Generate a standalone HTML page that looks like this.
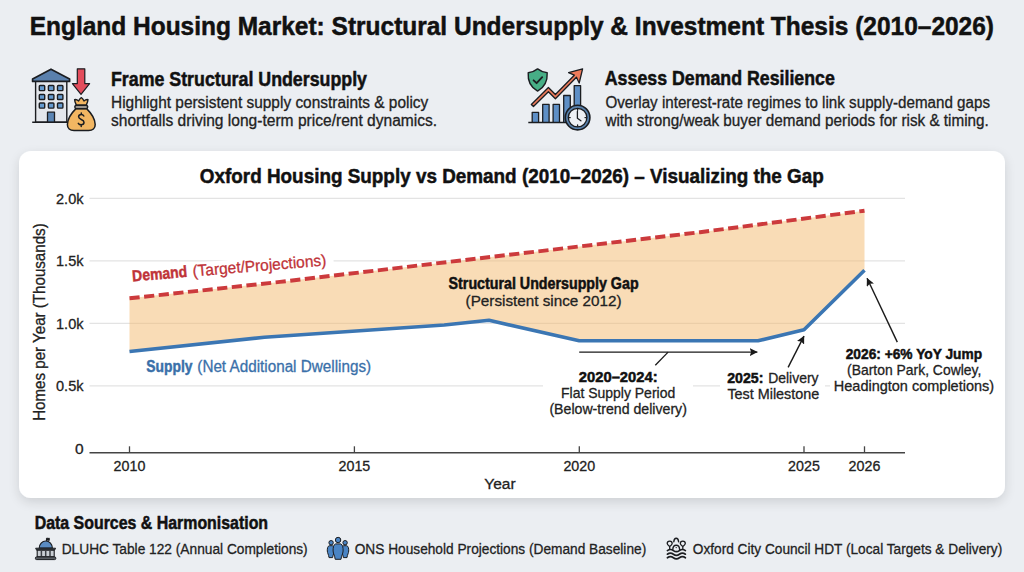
<!DOCTYPE html>
<html><head><meta charset="utf-8"><title>England Housing Market</title>
<style>
html,body{margin:0;padding:0;width:1024px;height:572px;overflow:hidden;background:#ebeef2}
svg{display:block;font-family:"Liberation Sans", sans-serif}
</style></head><body>
<svg width="1024" height="572" viewBox="0 0 1024 572">
<rect width="1024" height="572" fill="#ebeef2"/>
<text x="29.7" y="35.0" font-size="26" font-weight="bold" fill="#111" stroke="#111" stroke-width="0.5" text-anchor="start" textLength="964.3" lengthAdjust="spacingAndGlyphs">England Housing Market: Structural Undersupply &amp; Investment Thesis (2010–2026)</text>

<text x="111.0" y="85.5" font-size="19.3" font-weight="bold" fill="#111" stroke="#111" stroke-width="0.5" text-anchor="start" textLength="256.0" lengthAdjust="spacingAndGlyphs">Frame Structural Undersupply</text>

<text x="111.0" y="107.8" font-size="15.6" fill="#222" stroke="#222" stroke-width="0.3" text-anchor="start" textLength="317.3" lengthAdjust="spacingAndGlyphs">Highlight persistent supply constraints &amp; policy</text>

<text x="111.0" y="125.6" font-size="15.6" fill="#222" stroke="#222" stroke-width="0.3" text-anchor="start" textLength="326.2" lengthAdjust="spacingAndGlyphs">shortfalls driving long-term price/rent dynamics.</text>

<text x="604.8" y="85.2" font-size="19.3" font-weight="bold" fill="#111" stroke="#111" stroke-width="0.5" text-anchor="start" textLength="230.0" lengthAdjust="spacingAndGlyphs">Assess Demand Resilience</text>

<text x="605.4" y="107.8" font-size="15.6" fill="#222" stroke="#222" stroke-width="0.3" text-anchor="start" textLength="384.6" lengthAdjust="spacingAndGlyphs">Overlay interest-rate regimes to link supply-demand gaps</text>

<text x="605.4" y="125.6" font-size="15.6" fill="#222" stroke="#222" stroke-width="0.3" text-anchor="start" textLength="383.4" lengthAdjust="spacingAndGlyphs">with strong/weak buyer demand periods for risk &amp; timing.</text>

<defs><filter id="sh" x="-5%" y="-10%" width="110%" height="125%"><feGaussianBlur in="SourceAlpha" stdDeviation="6"/><feOffset dy="4"/><feComponentTransfer><feFuncA type="linear" slope="0.13"/></feComponentTransfer><feMerge><feMergeNode/><feMergeNode in="SourceGraphic"/></feMerge></filter></defs>
<rect x="19" y="151" width="986" height="347" rx="12" fill="#ffffff" filter="url(#sh)"/>
<text x="199.8" y="182.5" font-size="21" font-weight="bold" fill="#111" stroke="#111" stroke-width="0.5" text-anchor="start" textLength="624.0" lengthAdjust="spacingAndGlyphs">Oxford Housing Supply vs Demand (2010–2026) – Visualizing the Gap</text>

<line x1="89.5" x2="905" y1="385.9" y2="385.9" stroke="#e3e3e3" stroke-width="1.2"/>
<line x1="89.5" x2="905" y1="323.4" y2="323.4" stroke="#e3e3e3" stroke-width="1.2"/>
<line x1="89.5" x2="905" y1="260.9" y2="260.9" stroke="#e3e3e3" stroke-width="1.2"/>
<line x1="89.5" x2="905" y1="198.4" y2="198.4" stroke="#e3e3e3" stroke-width="1.2"/>
<text x="83.5" y="203.7" font-size="15.5" fill="#222" stroke="#222" stroke-width="0.3" text-anchor="end" textLength="27.5" lengthAdjust="spacingAndGlyphs">2.0k</text>

<text x="83.5" y="266.2" font-size="15.5" fill="#222" stroke="#222" stroke-width="0.3" text-anchor="end" textLength="27.5" lengthAdjust="spacingAndGlyphs">1.5k</text>

<text x="83.5" y="328.7" font-size="15.5" fill="#222" stroke="#222" stroke-width="0.3" text-anchor="end" textLength="27.5" lengthAdjust="spacingAndGlyphs">1.0k</text>

<text x="83.5" y="391.2" font-size="15.5" fill="#222" stroke="#222" stroke-width="0.3" text-anchor="end" textLength="27.5" lengthAdjust="spacingAndGlyphs">0.5k</text>

<text x="83.5" y="453.7" font-size="15.5" fill="#222" stroke="#222" stroke-width="0.3" text-anchor="end">0</text>

<line x1="89.5" x2="905" y1="452.8" y2="452.8" stroke="#444" stroke-width="1.4"/>
<line x1="129.5" x2="129.5" y1="446.3" y2="452.8" stroke="#444" stroke-width="1.3"/>
<text x="129.5" y="471.1" font-size="15.3" fill="#222" stroke="#222" stroke-width="0.3" text-anchor="middle" textLength="31.8" lengthAdjust="spacingAndGlyphs">2010</text>

<line x1="354.4" x2="354.4" y1="446.3" y2="452.8" stroke="#444" stroke-width="1.3"/>
<text x="354.4" y="471.1" font-size="15.3" fill="#222" stroke="#222" stroke-width="0.3" text-anchor="middle" textLength="31.8" lengthAdjust="spacingAndGlyphs">2015</text>

<line x1="579.3" x2="579.3" y1="446.3" y2="452.8" stroke="#444" stroke-width="1.3"/>
<text x="579.3" y="471.1" font-size="15.3" fill="#222" stroke="#222" stroke-width="0.3" text-anchor="middle" textLength="31.8" lengthAdjust="spacingAndGlyphs">2020</text>

<line x1="804.0" x2="804.0" y1="446.3" y2="452.8" stroke="#444" stroke-width="1.3"/>
<text x="804.0" y="471.1" font-size="15.3" fill="#222" stroke="#222" stroke-width="0.3" text-anchor="middle" textLength="31.8" lengthAdjust="spacingAndGlyphs">2025</text>

<line x1="864.5" x2="864.5" y1="446.3" y2="452.8" stroke="#444" stroke-width="1.3"/>
<text x="864.5" y="471.1" font-size="15.3" fill="#222" stroke="#222" stroke-width="0.3" text-anchor="middle" textLength="31.8" lengthAdjust="spacingAndGlyphs">2026</text>

<text x="500.0" y="488.5" font-size="15.5" fill="#222" stroke="#222" stroke-width="0.3" text-anchor="middle">Year</text>

<text x="0.0" y="0.0" font-size="15.6" fill="#222" stroke="#222" stroke-width="0.3" text-anchor="start" textLength="197.5" lengthAdjust="spacingAndGlyphs" transform="translate(45.4,420.8) rotate(-90)">Homes per Year (Thousands)</text>

<polygon points="129.5,298.3 280.0,281.9 700.0,232.2 864.5,210.7 864.5,270.2 804.0,329.7 758.0,340.8 579.2,340.8 489.0,320.3 444.2,325.0 264.4,337.3 129.5,351.5" fill="#f3b96d" fill-opacity="0.5"/>
<polyline points="129.5,351.5 264.4,337.3 444.2,325.0 489.0,320.3 579.2,340.8 758.0,340.8 804.0,329.7 864.5,270.2" fill="none" stroke="#3b76b3" stroke-width="3.6" stroke-linejoin="round"/>
<polyline points="129.5,298.3 280.0,281.9 700.0,232.2 864.5,210.7" fill="none" stroke="#cc3a3c" stroke-width="3.9" stroke-dasharray="10.2 4.5"/>
<text x="146.3" y="371.6" font-size="15.8" font-weight="bold" fill="#3a70a9" stroke="#3a70a9" stroke-width="0.45" textLength="46.3" lengthAdjust="spacingAndGlyphs">Supply</text><text x="197.3" y="371.6" font-size="15.8" fill="#3a70a9" stroke="#3a70a9" stroke-width="0.3" textLength="173.8" lengthAdjust="spacingAndGlyphs">(Net Additional Dwellings)</text>
<g transform="translate(132.6,281.4) rotate(-4.7)"><rect x="-3" y="-13.5" width="205" height="19" fill="#fff"/><text x="0" y="0" font-size="16" font-weight="bold" fill="#bf3338" stroke="#bf3338" stroke-width="0.45" textLength="55.2" lengthAdjust="spacingAndGlyphs">Demand</text><text x="60.6" y="0" font-size="16" fill="#bf3338" stroke="#bf3338" stroke-width="0.3" textLength="134" lengthAdjust="spacingAndGlyphs">(Target/Projections)</text></g>
<rect x="543" y="368" width="150" height="50" fill="#fff"/>
<rect x="720" y="370" width="105" height="34" fill="#fff"/>
<rect x="830" y="345" width="170" height="50" fill="#fff"/>
<text x="578.8" y="382.4" font-size="15.2" font-weight="bold" fill="#111" stroke="#111" stroke-width="0.5" text-anchor="start" textLength="78.8" lengthAdjust="spacingAndGlyphs">2020–2024:</text>

<text x="561.0" y="398.1" font-size="14.8" fill="#222" stroke="#222" stroke-width="0.3" text-anchor="start" textLength="114.2" lengthAdjust="spacingAndGlyphs">Flat Supply Period</text>

<text x="549.4" y="413.8" font-size="14.8" fill="#222" stroke="#222" stroke-width="0.3" text-anchor="start" textLength="137.5" lengthAdjust="spacingAndGlyphs">(Below-trend delivery)</text>

<text x="727.2" y="383" font-size="15.2" font-weight="bold" fill="#111" stroke="#111" stroke-width="0.5" textLength="36.2" lengthAdjust="spacingAndGlyphs">2025:</text><text x="768.2" y="383" font-size="14.8" fill="#222" stroke="#222" stroke-width="0.3" textLength="50.3" lengthAdjust="spacingAndGlyphs">Delivery</text>
<text x="727.4" y="399.3" font-size="14.8" fill="#222" stroke="#222" stroke-width="0.3" text-anchor="start" textLength="91.9" lengthAdjust="spacingAndGlyphs">Test Milestone</text>

<text x="845.7" y="359.3" font-size="15.2" font-weight="bold" fill="#111" stroke="#111" stroke-width="0.5" text-anchor="start" textLength="136.4" lengthAdjust="spacingAndGlyphs">2026: +6% YoY Jump</text>

<text x="847.1" y="375.2" font-size="14.8" fill="#222" stroke="#222" stroke-width="0.3" text-anchor="start" textLength="134.2" lengthAdjust="spacingAndGlyphs">(Barton Park, Cowley,</text>

<text x="833.8" y="390.6" font-size="14.8" fill="#222" stroke="#222" stroke-width="0.3" text-anchor="start" textLength="160.3" lengthAdjust="spacingAndGlyphs">Headington completions)</text>

<defs><marker id="ah" viewBox="0 0 10 10" refX="9.5" refY="5" markerWidth="8" markerHeight="8" markerUnits="userSpaceOnUse" orient="auto"><path d="M0,0 L10,5 L0,10 L1.8,5 z" fill="#1a1a1a"/></marker></defs>
<line x1="579.2" y1="352.1" x2="757.3" y2="352.1" stroke="#1a1a1a" stroke-width="1.4" marker-end="url(#ah)"/>
<line x1="668.1" y1="352.1" x2="655.3" y2="365.3" stroke="#1a1a1a" stroke-width="1.3"/>
<line x1="788.1" y1="367.4" x2="804" y2="336.1" stroke="#1a1a1a" stroke-width="1.4" marker-end="url(#ah)"/>
<line x1="897.3" y1="342.1" x2="867.1" y2="278.3" stroke="#1a1a1a" stroke-width="1.4" marker-end="url(#ah)"/>
<text x="448.6" y="289.3" font-size="15.8" font-weight="bold" fill="#111" stroke="#111" stroke-width="0.5" text-anchor="start" textLength="190.0" lengthAdjust="spacingAndGlyphs">Structural Undersupply Gap</text>

<text x="465.6" y="306.4" font-size="15.3" fill="#222" stroke="#222" stroke-width="0.3" text-anchor="start" textLength="156.0" lengthAdjust="spacingAndGlyphs">(Persistent since 2012)</text>

<text x="34.7" y="528.6" font-size="17.5" font-weight="bold" fill="#111" stroke="#111" stroke-width="0.5" text-anchor="start" textLength="233.4" lengthAdjust="spacingAndGlyphs">Data Sources &amp; Harmonisation</text>

<text x="61.7" y="554.3" font-size="15.4" fill="#222" stroke="#222" stroke-width="0.3" text-anchor="start" textLength="246.0" lengthAdjust="spacingAndGlyphs">DLUHC Table 122 (Annual Completions)</text>

<text x="354.7" y="554.3" font-size="15.4" fill="#222" stroke="#222" stroke-width="0.3" text-anchor="start" textLength="291.5" lengthAdjust="spacingAndGlyphs">ONS Household Projections (Demand Baseline)</text>

<text x="692.8" y="554.3" font-size="15.4" fill="#222" stroke="#222" stroke-width="0.3" text-anchor="start" textLength="309.4" lengthAdjust="spacingAndGlyphs">Oxford City Council HDT (Local Targets &amp; Delivery)</text>

<g stroke="#1b1d21" stroke-linejoin="round">
<rect x="35.6" y="80" width="31.2" height="42.3" fill="#e4e7ec" stroke-width="1.4"/>
<path d="M51,69.2 L32.6,78.9 L32.6,81.4 L69.6,81.4 L69.6,78.9 Z" fill="#5a80ad" stroke-width="1.7"/>
<g fill="#659bd0" stroke-width="1.4">
<rect x="39.3" y="85.5" width="5.4" height="5.1" rx="0.8"/><rect x="48.4" y="85.5" width="5.5" height="5.1" rx="0.8"/><rect x="57.5" y="85.5" width="5.4" height="5.1" rx="0.8"/>
<rect x="39.3" y="94.5" width="5.4" height="5.0" rx="0.8"/><rect x="48.4" y="94.5" width="5.5" height="5.0" rx="0.8"/><rect x="57.5" y="94.5" width="5.4" height="5.0" rx="0.8"/>
<rect x="39.3" y="103" width="5.4" height="5.1" rx="0.8"/><rect x="48.4" y="103" width="5.5" height="5.1" rx="0.8"/><rect x="57.5" y="103" width="5.4" height="5.1" rx="0.8"/>
</g>
<rect x="47.5" y="112.2" width="7" height="10.1" fill="#5a84b3" stroke-width="1.3"/>
<line x1="32.2" y1="122.3" x2="68.5" y2="122.3" stroke-width="1.6"/>
</g>
<path d="M77.3,68.8 L84.8,68.8 L84.8,83.6 L89.6,83.6 L81,94.4 L72.4,83.6 L77.3,83.6 Z" fill="#e34d5c" stroke="#1b1d21" stroke-width="1.2" stroke-linejoin="round"/>
<g stroke="#1b1d21" stroke-linejoin="round">
<path d="M76,108.6 C72,112.5 67.6,119 67.4,124.5 C67.3,128.5 70,130.6 74,130.6 L88.6,130.6 C92.6,130.6 95.3,128.5 95.2,124.5 C95,119 90.6,112.5 86.6,108.6 Z" fill="#f2b662" stroke-width="1.5"/>
<path d="M76.4,105.2 C75.6,103.4 74.6,101.4 74.6,99.6 C76.4,99.2 77.6,100 78.6,100.9 C79.4,99.4 80.2,98.1 81.3,97.7 C82.4,98.1 83.2,99.4 84,100.9 C85,100 86.2,99.2 88,99.6 C88,101.4 87,103.4 86.2,105.2 Z" fill="#f2b662" stroke-width="1.4"/>
<rect x="74.8" y="105.2" width="12.9" height="3.6" rx="1.8" fill="#9c968f" stroke-width="1.4"/>
<path d="M83.8,116 C83.3,115 82.4,114.5 81.3,114.5 C79.6,114.5 78.6,115.4 78.6,116.8 C78.6,119.9 84,119 84,122.3 C84,123.9 82.8,124.8 81.2,124.8 C80,124.8 78.9,124.3 78.3,123.3 M81.3,113 L81.3,114.5 M81.2,124.8 L81.2,126.5" fill="none" stroke-width="1.5" stroke-linecap="round"/>
</g>
<g stroke="#1b1d21" stroke-linejoin="round">
<line x1="528.3" y1="122.4" x2="570" y2="122.4" stroke-width="1.5"/>
<g fill="#5e8fc6" stroke-width="1.3">
<rect x="532.2" y="112.3" width="6.4" height="10.1"/>
<rect x="542.7" y="104.4" width="6.4" height="18"/>
<rect x="553.1" y="104.4" width="6.4" height="18"/>
<rect x="563.7" y="95.5" width="6.6" height="26.9"/>
<rect x="574.2" y="85.6" width="6.4" height="24"/>
</g>
<path d="M533.46,106.56 L548.40,91.72 L555.41,98.73 L576.44,77.31 L579.2,83.0 L582.60,68.90 L568.6,72.6 L574.30,75.21 L555.39,94.47 L548.40,87.48 L531.34,104.44 Z" fill="#ee7b5b" stroke-width="1.3"/>
<path d="M537.6,68.9 C540.6,71.2 543.8,72.6 547.2,72.8 C547.6,81 544.6,87.4 537.6,91.1 C530.6,87.4 527.6,81 528.2,72.8 C531.4,72.6 534.6,71.2 537.6,68.9 Z" fill="#47ae86" stroke-width="1.4"/>
<polyline points="533.6,80.3 536.6,83.2 542.2,77.2" fill="none" stroke-width="1.8" stroke-linecap="round"/>
<circle cx="577.6" cy="117.6" r="12.3" fill="#5a82ad" stroke-width="1.6"/>
<circle cx="577.6" cy="117.6" r="9.3" fill="#eef0f4" stroke-width="1.3"/>
<path d="M577.4,111.5 L577.4,118.2 L580.9,120.8 M577.6,109 L577.6,110.2 M577.6,125 L577.6,126.2 M569,117.6 L570.2,117.6 M585,117.6 L586.2,117.6" fill="none" stroke-width="1.3" stroke-linecap="round"/>
</g>
<g stroke="#1b1d21" stroke-linejoin="round">
<path d="M46.5,541.2 L46.5,538.2 M46.6,538.3 C47.6,538 48.4,538.6 49.2,538.4 L49.2,540.2 C48.4,540.4 47.6,539.8 46.6,540.1" fill="#1b1d21" stroke-width="1.1"/>
<path d="M39.2,548.2 C39.2,544.2 42.2,541 45.8,541 C49.4,541 52.4,544.2 52.4,548.2 Z" fill="#5b8cc2" stroke-width="1.2"/>
<path d="M35.6,548.2 L55.6,548.2 L54.6,550.2 L36.6,550.2 Z" fill="#3a3d42" stroke-width="0.9"/>
<rect x="37.2" y="550.2" width="17" height="6.7" fill="#c9ced4" stroke-width="1.1"/>
<g stroke="#3c4046" stroke-width="1.5"><line x1="41.4" y1="550.4" x2="41.4" y2="556.8"/><line x1="45.7" y1="550.4" x2="45.7" y2="556.8"/><line x1="50" y1="550.4" x2="50" y2="556.8"/></g>
<rect x="35.4" y="556.9" width="20.4" height="2.7" rx="1.2" fill="#5a5e64" stroke-width="1"/>
</g>
<g stroke="#1b1d21" stroke-linejoin="round" fill="#4a84c4" stroke-width="1">
<circle cx="331.1" cy="542.7" r="2.2"/><circle cx="345.1" cy="542.7" r="2.2"/>
<path d="M329.4,545.7 C327.6,546 327.2,548.6 327.3,551 C327.4,553.2 328.6,554.4 329,557.6 L332.6,557.6 C333,554.4 334.2,553.2 334.3,551 C334.4,548.6 334,546 332.4,545.7 Z"/>
<path d="M343.6,545.7 C342,546 341.6,548.6 341.7,551 C341.8,553.2 343,554.4 343.4,557.6 L347,557.6 C347.4,554.4 348.6,553.2 348.7,551 C348.8,548.6 348.4,546 346.6,545.7 Z"/>
<circle cx="338.1" cy="540" r="2.7"/>
<path d="M335.6,543.9 C333.4,544.4 333,548 333.1,551 C333.2,554 334.8,555.4 335.2,559.3 L341,559.3 C341.4,555.4 343,554 343.1,551 C343.2,548 342.8,544.4 340.6,543.9 Z"/>
</g>
<g stroke="#1b1d21" fill="none" stroke-width="1.7" stroke-linecap="round" stroke-linejoin="round">
<path d="M667.4,550.6 Q670.4,548.4 673.4,550.6 T679.4,550.6 T685.4,550.6"/>
<path d="M667.4,554.2 Q670.4,552 673.4,554.2 T679.4,554.2 T685.4,554.2"/>
<path d="M667.4,557.8 Q670.4,555.6 673.4,557.8 T679.4,557.8 T685.4,557.8"/>
<path d="M672.8,549.4 C672.9,546.6 674.3,545.3 676.2,545.3 C678.1,545.3 679.5,546.6 679.6,549.4" stroke-width="1.4"/>
<circle cx="676.2" cy="547.6" r="0.7" fill="#1b1d21" stroke="none"/>
<path d="M669.7,548.8 L669.7,546.6 M667.2,543.6 A2.5,2.5 0 1 1 672.2,543.6 C672.2,544.8 670.5,546 669.7,546.6 C668.9,546 667.2,544.8 667.2,543.6 Z" stroke-width="1.3"/>
<path d="M682.8,548.8 L682.8,546.6 M680.3,543.6 A2.5,2.5 0 1 1 685.3,543.6 C685.3,544.8 683.6,546 682.8,546.6 C682,546 680.3,544.8 680.3,543.6 Z" stroke-width="1.3"/>
<path d="M673.8,541.8 C674,539.6 675,538.3 676.2,538.3 C677.4,538.3 678.4,539.6 678.6,541.8" stroke-width="1.4"/>
</g>
</svg>
</body></html>
